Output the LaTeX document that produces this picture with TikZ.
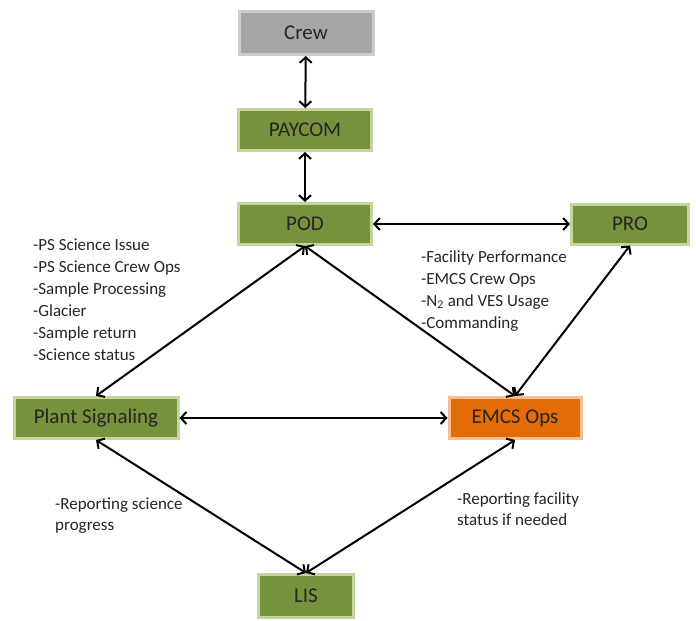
\documentclass[tikz,border=0pt]{standalone}
\usepackage{fontspec}
\setmainfont{Carlito}
\usetikzlibrary{arrows.meta}
\definecolor{boxgreen}{HTML}{76923C}
\definecolor{edgegreen}{HTML}{C3D69B}
\definecolor{boxgray}{HTML}{A6A6A6}
\definecolor{edgegray}{HTML}{CCCCCC}
\definecolor{boxorange}{HTML}{E36C09}
\definecolor{edgeorange}{HTML}{F9BF8F}
\definecolor{txt}{HTML}{262626}
\begin{document}
\begin{tikzpicture}[x=1pt,y=-1pt,
  box/.style={draw=edgegreen,fill=boxgreen,line width=3pt,inner sep=0pt,
    font=\fontsize{21}{24}\selectfont,text=txt},
  graybox/.style={box,draw=edgegray,fill=boxgray},
  orangebox/.style={box,draw=edgeorange,fill=boxorange},
  link/.style={line width=2pt,black,{Straight Barb[length=5.5pt,width=12pt]}-{Straight Barb[length=5.5pt,width=12pt]}},
  note/.style={inner sep=0pt,align=left,text=txt,font=\fontsize{17}{22}\selectfont}]
\useasboundingbox (0,0) rectangle (696,621);
\node[graybox,minimum width=134pt,minimum height=43pt] (crew) at (306,33) {Crew};
\node[box,minimum width=133pt,minimum height=41pt] (paycom) at (305,130) {PAYCOM};
\node[box,minimum width=133pt,minimum height=41pt] (pod) at (305,224) {POD};
\node[box,minimum width=117pt,minimum height=40pt] (pro) at (630,224) {PRO};
\node[box,minimum width=164pt,minimum height=41pt] (plant) at (96,418) {Plant Signaling};
\node[orangebox,minimum width=132pt,minimum height=41pt] (emcs) at (515,418) {EMCS Ops};
\node[box,minimum width=95pt,minimum height=43pt] (lis) at (306,596) {LIS};

\draw[link] (crew) -- (paycom);
\draw[link] (paycom) -- (pod);
\draw[link] (pod) -- (pro);
\draw[link] (pod.south) -- (plant.north);
\draw[link] (pod.south) -- (emcs.north);
\draw[link] (pro.south) -- (emcs.north);
\draw[link] (plant) -- (emcs);
\draw[link] (plant.south) -- (lis.north);
\draw[link] (emcs.south) -- (lis.north);

\node[note,anchor=north west] (n1) at (33,239) {-PS Science Issue\\-PS Science Crew Ops\\-Sample Processing\\-Glacier\\-Sample return\\-Science status};
\node[note,anchor=north west] (n2) at (421,250) {-Facility Performance\\-EMCS Crew Ops\\-N\textsubscript{2} and VES Usage\\-Commanding};
\node[note,anchor=north west,font=\fontsize{17}{21}\selectfont] (n3) at (55,498) {-Reporting science\\progress};
\node[note,anchor=north west,font=\fontsize{17}{21}\selectfont] (n4) at (457,492) {-Reporting facility\\status if needed};
\end{tikzpicture}
\end{document}
